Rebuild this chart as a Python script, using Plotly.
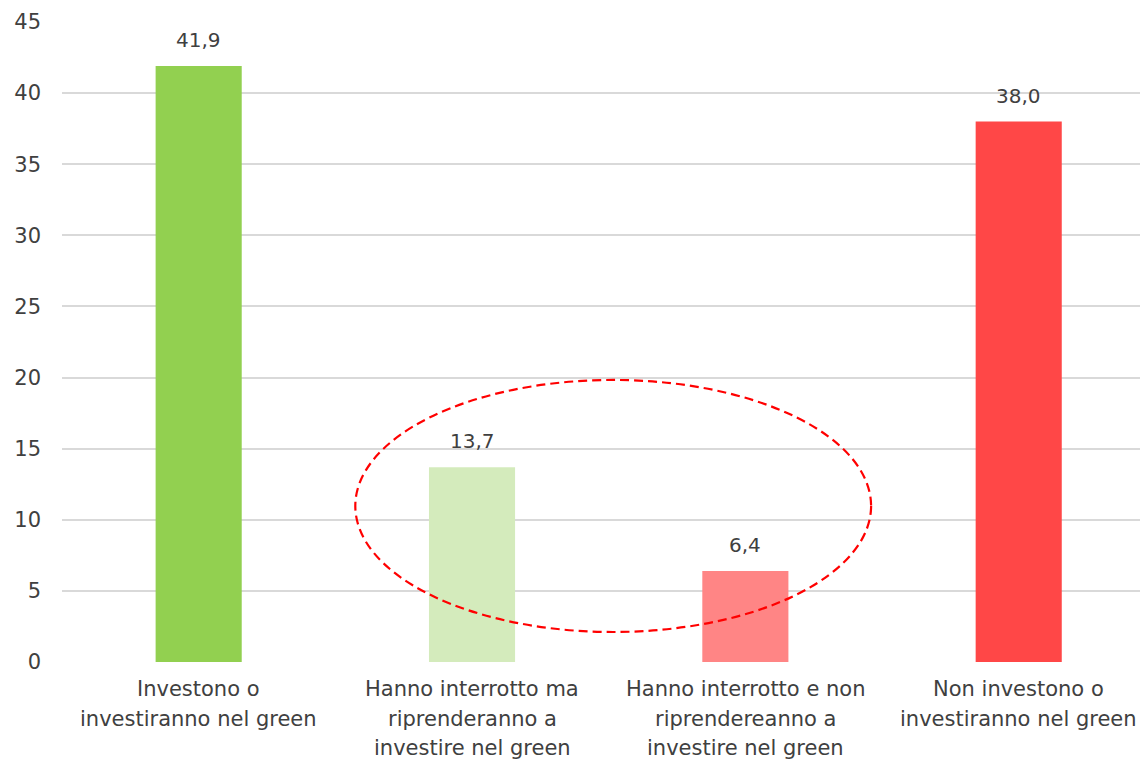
import plotly.graph_objects as go

categories = [
    ["Investono o", "investiranno nel green"],
    ["Hanno interrotto ma", "riprenderanno a", "investire nel green"],
    ["Hanno interrotto e non", "riprendereanno a", "investire nel green"],
    ["Non investono o", "investiranno nel green"],
]
values = [41.9, 13.7, 6.4, 38.0]
colors = ["#92D050", "#D4EBBC", "#FF8585", "#FF4747"]
tick_vals = [0, 5, 10, 15, 20, 25, 30, 35, 40, 45]

FONT = "DejaVu Sans"
TXT = "#404040"

xs = list(range(len(categories)))

fig = go.Figure(
    go.Bar(
        x=xs,
        y=values,
        marker=dict(color=colors, line=dict(width=0)),
        width=0.315,
        cliponaxis=False,
        hoverinfo="skip",
    )
)

# value labels
for xi, v in zip(xs, values):
    fig.add_annotation(
        x=xi, y=v, xref="x", yref="y",
        text=f"{v:.1f}".replace(".", ","),
        showarrow=False, yanchor="middle", yshift=26,
        font=dict(family=FONT, size=20, color=TXT),
    )

# category labels (one annotation per line for Excel-like line spacing)
for xi, lines in zip(xs, categories):
    for k, line in enumerate(lines):
        fig.add_annotation(
            x=xi, y=0, xref="x", yref="y",
            text=line, showarrow=False,
            yanchor="middle", xanchor="center",
            yshift=-(27 + 29.5 * k),
            font=dict(family=FONT, size=21, color=TXT),
        )

fig.add_shape(
    type="circle", xref="x", yref="y",
    x0=0.573, x1=2.46, y0=2.11, y1=19.83,
    line=dict(color="#FF0000", width=2.2, dash="9px,5px"),
    layer="above",
)

# page body has an 8px margin, so the figure is drawn 8px smaller and offset
fig.update_layout(
    width=1140, height=754,
    margin=dict(l=54, r=0, t=14, b=100, autoexpand=False),
    paper_bgcolor="white", plot_bgcolor="white",
    showlegend=False,
    font=dict(family=FONT, color=TXT),
)
fig.update_xaxes(
    range=[-0.5, 3.473],
    tickvals=xs,
    showticklabels=False,
    showgrid=False, showline=False, zeroline=False,
    ticks="", automargin=False,
)
fig.update_yaxes(
    range=[0, 45],
    tickvals=tick_vals,
    tickfont=dict(family=FONT, size=21, color=TXT),
    showgrid=True, gridcolor="#D9D9D9", gridwidth=2,
    zeroline=False, showline=False, ticks="",
    ticklabelstandoff=20, automargin=False,
)

fig.write_html("out.html")
